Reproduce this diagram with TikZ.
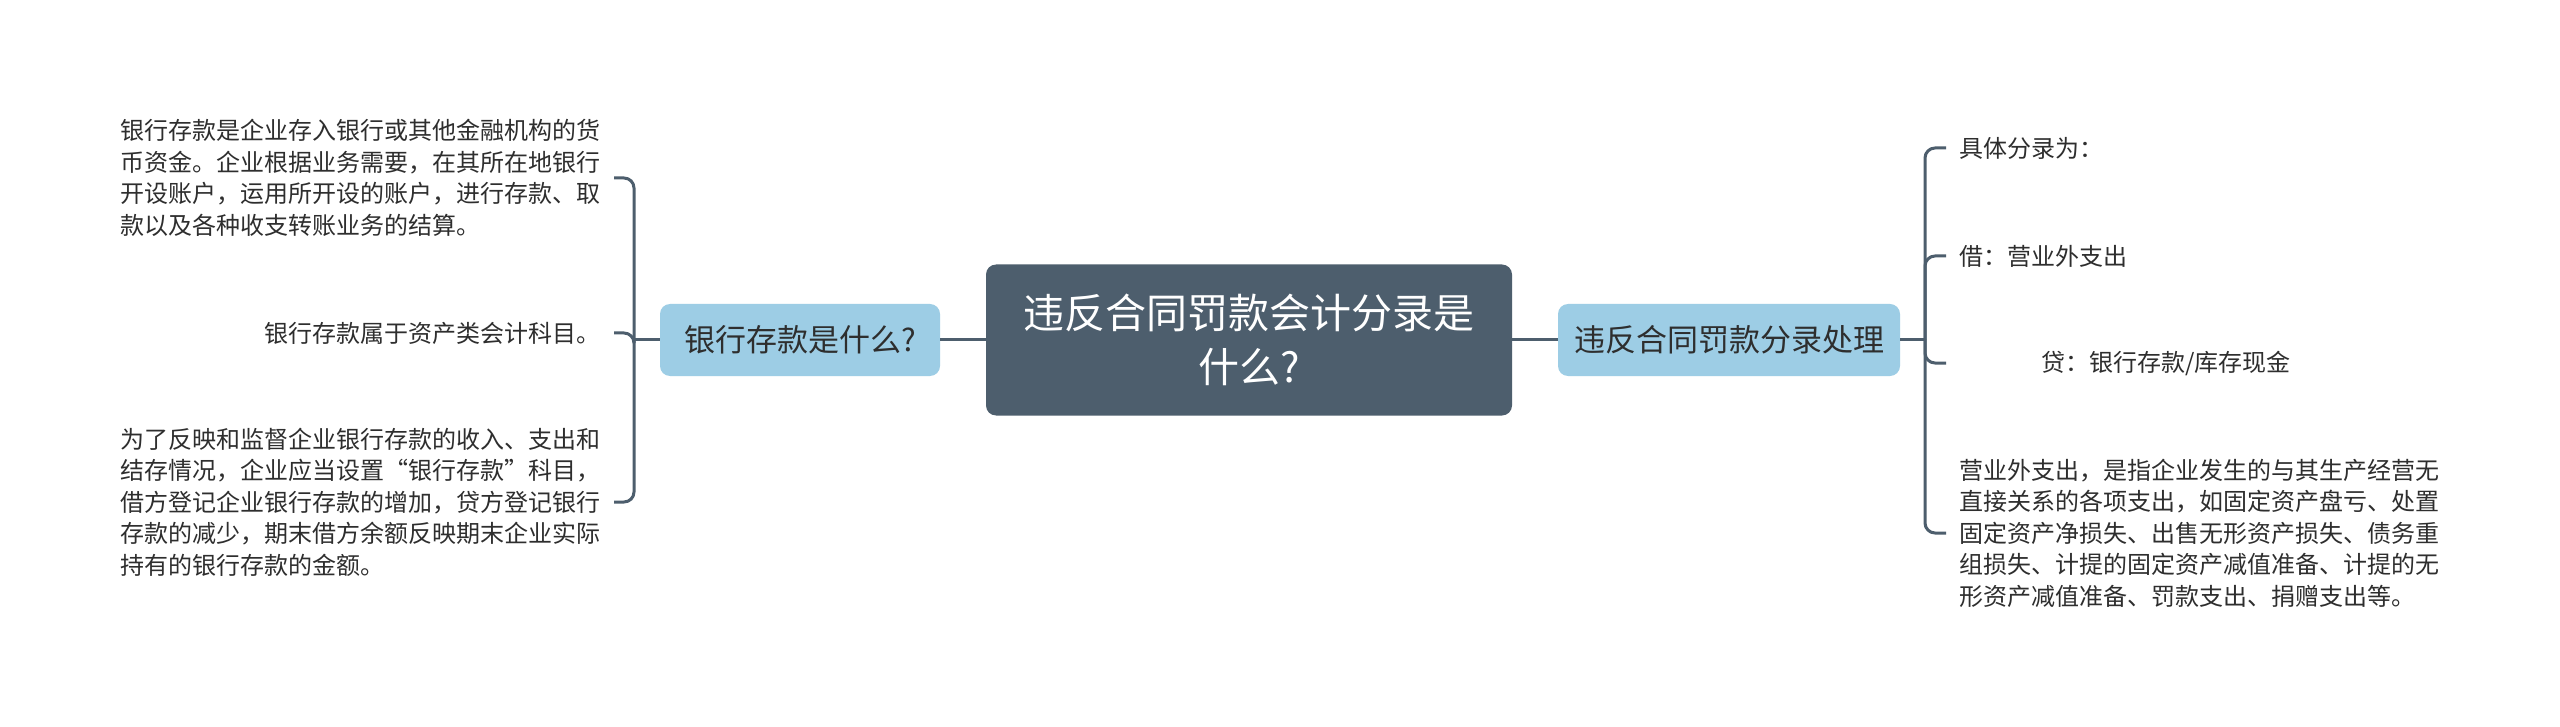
\documentclass[tikz,border=0pt]{standalone}
\usepackage{fontspec}
\setmainfont{Noto Sans CJK SC}
\usetikzlibrary{calc}
\definecolor{dark}{HTML}{4D5E6D}
\definecolor{lblue}{HTML}{9DCDE5}
\definecolor{txt}{HTML}{2E2E2E}
\begin{document}
\begin{tikzpicture}[x=1pt,y=-1pt]
\tikzset{
 link/.style={draw=dark, line width=3pt},
 brk/.style={draw=dark, line width=3pt, rounded corners=10pt},
 root/.style={fill=dark, rounded corners=10pt, text=white, font=\fontsize{41}{54}\selectfont, align=center, minimum width=526pt, minimum height=151pt, inner sep=0pt},
 sub/.style={fill=lblue, rounded corners=10pt, text=txt, font=\fontsize{31}{36}\selectfont, minimum height=72pt, inner sep=0pt},
 leaf/.style={text=txt, font=\fontsize{24}{31.5}\selectfont, inner sep=0pt},
}
\useasboundingbox (0,0) rectangle (2560,727);
\fill[white] (0,0) rectangle (2560,727);

\node[root] (c) at (1249,340) {违反合同罚款会计分录是\\什么?};
\node[sub, minimum width=280pt] (l) at (800,340) {银行存款是什么?};
\node[sub, minimum width=342pt] (r) at (1729,340) {违反合同罚款分录处理};

\draw[link] (l.east) -- (c.west);
\draw[link] (c.east) -- (r.west);

% left leaves
\node[leaf, anchor=east, align=left] (a1) at (601,178) {银行存款是企业存入银行或其他金融机构的货\\币资金。企业根据业务需要，在其所在地银行\\开设账户，运用所开设的账户，进行存款、取\\款以及各种收支转账业务的结算。};
\node[leaf, anchor=east, align=right] (a2) at (601,333) {银行存款属于资产类会计科目。};
\node[leaf, anchor=east, align=left] (a3) at (601,502) {为了反映和监督企业银行存款的收入、支出和\\结存情况，企业应当设置“银行存款”科目，\\借方登记企业银行存款的增加，贷方登记银行\\存款的减少，期末借方余额反映期末企业实际\\持有的银行存款的金额。};

\coordinate (jl) at (634,340);
\draw[link] (l.west) -- (jl);
\draw[brk] (jl) |- ($(a1.east)+(13,0)$);
\draw[brk] (jl) |- ($(a2.east)+(13,0)$);
\draw[brk] (jl) |- ($(a3.east)+(13,0)$);

% right leaves
\node[leaf, anchor=west] (b1) at (1959,148) {具体分录为：};
\node[leaf, anchor=west] (b2) at (1959,256) {借：营业外支出};
\node[leaf, anchor=west] (b3) at (2041,363) {贷：银行存款/库存现金};
\node[leaf, anchor=west, align=left] (b4) at (1959,533) {营业外支出，是指企业发生的与其生产经营无\\直接关系的各项支出，如固定资产盘亏、处置\\固定资产净损失、出售无形资产损失、债务重\\组损失、计提的固定资产减值准备、计提的无\\形资产减值准备、罚款支出、捐赠支出等。};

\coordinate (jr) at (1925,340);
\draw[link] (r.east) -- (jr);
\draw[brk] (jr) |- ($(b1.west)+(-13,0)$);
\draw[brk] (jr) |- ($(b2.west)+(-13,0)$);
\draw[brk] (jr) |- ($(b1.west |- b3.west)+(-13,0)$);
\draw[brk] (jr) |- ($(b4.west)+(-13,0)$);
\end{tikzpicture}
\end{document}
